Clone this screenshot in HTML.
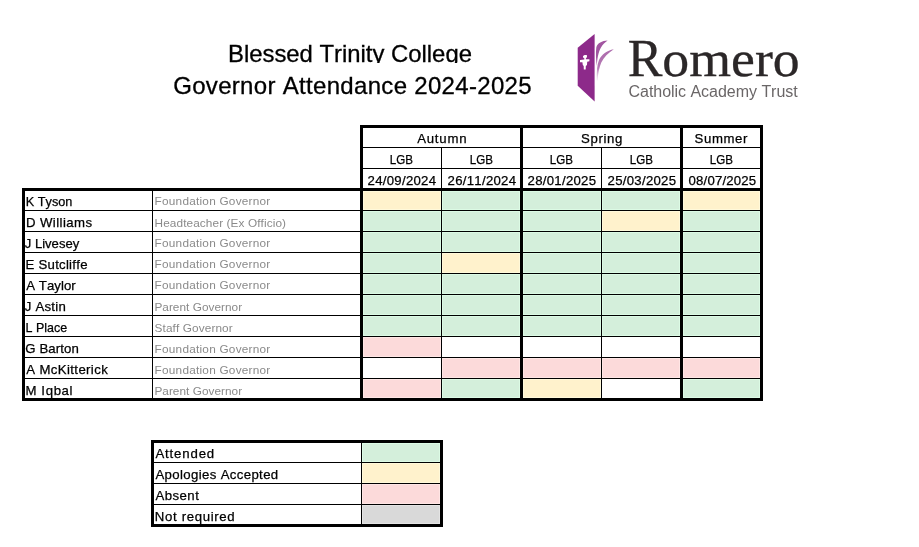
<!DOCTYPE html>
<html><head><meta charset="utf-8"><title>Governor Attendance 2024-2025</title>
<style>
html,body{margin:0;padding:0;background:#fff;}
body{width:919px;height:547px;position:relative;overflow:hidden;}
svg{position:absolute;left:0;top:0;}
text{font-family:"Liberation Sans",Arial,sans-serif;font-kerning:none;white-space:pre;}
.n{font-size:13.2px;fill:#000;stroke:#000;stroke-width:0.25px;}
.s{font-size:11.8px;fill:#8a8a8a;}
.ti{font-size:24px;fill:#000;stroke:#000;stroke-width:0.3px;}
.lr{font-family:"Liberation Serif",serif;font-size:52px;fill:#2b2728;stroke:#2b2728;stroke-width:0.3px;}
.ls{font-size:16px;fill:#6a6667;}
</style></head><body>
<svg width="919" height="547" viewBox="0 0 919 547">
<defs>
<clipPath id="c1"><rect x="0" y="0" width="919" height="63"/></clipPath>
<linearGradient id="fd" x1="0" y1="0" x2="0" y2="1"><stop offset="0" stop-color="#ad6bac"/><stop offset="0.6" stop-color="#b47ab3"/><stop offset="1" stop-color="#d9b8d8" stop-opacity="0.3"/></linearGradient>
</defs>
<g shape-rendering="crispEdges">
<rect x="363" y="191" width="78" height="19" fill="#fff9da"/>
<rect x="364" y="192" width="76" height="17" fill="#fff2cc"/>
<rect x="442" y="191" width="78" height="19" fill="#dcfbe5"/>
<rect x="443" y="192" width="76" height="17" fill="#d4efdb"/>
<rect x="523" y="191" width="78" height="19" fill="#dcfbe5"/>
<rect x="524" y="192" width="76" height="17" fill="#d4efdb"/>
<rect x="602" y="191" width="78" height="19" fill="#dcfbe5"/>
<rect x="603" y="192" width="76" height="17" fill="#d4efdb"/>
<rect x="683" y="191" width="77" height="19" fill="#fff9da"/>
<rect x="684" y="192" width="75" height="17" fill="#fff2cc"/>
<rect x="363" y="211" width="78" height="20" fill="#dcfbe5"/>
<rect x="364" y="212" width="76" height="18" fill="#d4efdb"/>
<rect x="442" y="211" width="78" height="20" fill="#dcfbe5"/>
<rect x="443" y="212" width="76" height="18" fill="#d4efdb"/>
<rect x="523" y="211" width="78" height="20" fill="#dcfbe5"/>
<rect x="524" y="212" width="76" height="18" fill="#d4efdb"/>
<rect x="602" y="211" width="78" height="20" fill="#fff9da"/>
<rect x="603" y="212" width="76" height="18" fill="#fff2cc"/>
<rect x="683" y="211" width="77" height="20" fill="#dcfbe5"/>
<rect x="684" y="212" width="75" height="18" fill="#d4efdb"/>
<rect x="363" y="232" width="78" height="20" fill="#dcfbe5"/>
<rect x="364" y="233" width="76" height="18" fill="#d4efdb"/>
<rect x="442" y="232" width="78" height="20" fill="#dcfbe5"/>
<rect x="443" y="233" width="76" height="18" fill="#d4efdb"/>
<rect x="523" y="232" width="78" height="20" fill="#dcfbe5"/>
<rect x="524" y="233" width="76" height="18" fill="#d4efdb"/>
<rect x="602" y="232" width="78" height="20" fill="#dcfbe5"/>
<rect x="603" y="233" width="76" height="18" fill="#d4efdb"/>
<rect x="683" y="232" width="77" height="20" fill="#dcfbe5"/>
<rect x="684" y="233" width="75" height="18" fill="#d4efdb"/>
<rect x="363" y="253" width="78" height="20" fill="#dcfbe5"/>
<rect x="364" y="254" width="76" height="18" fill="#d4efdb"/>
<rect x="442" y="253" width="78" height="20" fill="#fff9da"/>
<rect x="443" y="254" width="76" height="18" fill="#fff2cc"/>
<rect x="523" y="253" width="78" height="20" fill="#dcfbe5"/>
<rect x="524" y="254" width="76" height="18" fill="#d4efdb"/>
<rect x="602" y="253" width="78" height="20" fill="#dcfbe5"/>
<rect x="603" y="254" width="76" height="18" fill="#d4efdb"/>
<rect x="683" y="253" width="77" height="20" fill="#dcfbe5"/>
<rect x="684" y="254" width="75" height="18" fill="#d4efdb"/>
<rect x="363" y="274" width="78" height="20" fill="#dcfbe5"/>
<rect x="364" y="275" width="76" height="18" fill="#d4efdb"/>
<rect x="442" y="274" width="78" height="20" fill="#dcfbe5"/>
<rect x="443" y="275" width="76" height="18" fill="#d4efdb"/>
<rect x="523" y="274" width="78" height="20" fill="#dcfbe5"/>
<rect x="524" y="275" width="76" height="18" fill="#d4efdb"/>
<rect x="602" y="274" width="78" height="20" fill="#dcfbe5"/>
<rect x="603" y="275" width="76" height="18" fill="#d4efdb"/>
<rect x="683" y="274" width="77" height="20" fill="#dcfbe5"/>
<rect x="684" y="275" width="75" height="18" fill="#d4efdb"/>
<rect x="363" y="295" width="78" height="20" fill="#dcfbe5"/>
<rect x="364" y="296" width="76" height="18" fill="#d4efdb"/>
<rect x="442" y="295" width="78" height="20" fill="#dcfbe5"/>
<rect x="443" y="296" width="76" height="18" fill="#d4efdb"/>
<rect x="523" y="295" width="78" height="20" fill="#dcfbe5"/>
<rect x="524" y="296" width="76" height="18" fill="#d4efdb"/>
<rect x="602" y="295" width="78" height="20" fill="#dcfbe5"/>
<rect x="603" y="296" width="76" height="18" fill="#d4efdb"/>
<rect x="683" y="295" width="77" height="20" fill="#dcfbe5"/>
<rect x="684" y="296" width="75" height="18" fill="#d4efdb"/>
<rect x="363" y="316" width="78" height="20" fill="#dcfbe5"/>
<rect x="364" y="317" width="76" height="18" fill="#d4efdb"/>
<rect x="442" y="316" width="78" height="20" fill="#dcfbe5"/>
<rect x="443" y="317" width="76" height="18" fill="#d4efdb"/>
<rect x="523" y="316" width="78" height="20" fill="#dcfbe5"/>
<rect x="524" y="317" width="76" height="18" fill="#d4efdb"/>
<rect x="602" y="316" width="78" height="20" fill="#dcfbe5"/>
<rect x="603" y="317" width="76" height="18" fill="#d4efdb"/>
<rect x="683" y="316" width="77" height="20" fill="#dcfbe5"/>
<rect x="684" y="317" width="75" height="18" fill="#d4efdb"/>
<rect x="363" y="337" width="78" height="20" fill="#ffe6e5"/>
<rect x="364" y="338" width="76" height="18" fill="#fcdada"/>
<rect x="442" y="358" width="78" height="20" fill="#ffe6e5"/>
<rect x="443" y="359" width="76" height="18" fill="#fcdada"/>
<rect x="523" y="358" width="78" height="20" fill="#ffe6e5"/>
<rect x="524" y="359" width="76" height="18" fill="#fcdada"/>
<rect x="602" y="358" width="78" height="20" fill="#ffe6e5"/>
<rect x="603" y="359" width="76" height="18" fill="#fcdada"/>
<rect x="683" y="358" width="77" height="20" fill="#ffe6e5"/>
<rect x="684" y="359" width="75" height="18" fill="#fcdada"/>
<rect x="363" y="379" width="78" height="19" fill="#ffe6e5"/>
<rect x="364" y="380" width="76" height="17" fill="#fcdada"/>
<rect x="442" y="379" width="78" height="19" fill="#dcfbe5"/>
<rect x="443" y="380" width="76" height="17" fill="#d4efdb"/>
<rect x="523" y="379" width="78" height="19" fill="#fff9da"/>
<rect x="524" y="380" width="76" height="17" fill="#fff2cc"/>
<rect x="683" y="379" width="77" height="19" fill="#dcfbe5"/>
<rect x="684" y="380" width="75" height="17" fill="#d4efdb"/>
<rect x="362" y="443" width="78" height="19" fill="#dcfbe5"/>
<rect x="363" y="444" width="76" height="17" fill="#d4efdb"/>
<rect x="362" y="463" width="78" height="20" fill="#fff9da"/>
<rect x="363" y="464" width="76" height="18" fill="#fff2cc"/>
<rect x="362" y="484" width="78" height="20" fill="#ffe6e5"/>
<rect x="363" y="485" width="76" height="18" fill="#fcdada"/>
<rect x="362" y="505" width="78" height="19" fill="#e4e4e4"/>
<rect x="363" y="506" width="76" height="17" fill="#d9d9d9"/>
<rect x="360" y="125" width="403" height="3" fill="#000"/>
<rect x="361" y="147" width="401" height="1" fill="#000"/>
<rect x="361" y="168" width="401" height="1" fill="#000"/>
<rect x="441" y="147" width="1" height="43" fill="#000"/>
<rect x="601" y="147" width="1" height="43" fill="#000"/>
<rect x="360" y="125" width="3" height="66" fill="#000"/>
<rect x="520" y="125" width="3" height="66" fill="#000"/>
<rect x="680" y="125" width="3" height="66" fill="#000"/>
<rect x="760" y="125" width="3" height="66" fill="#000"/>
<rect x="22" y="188" width="741" height="3" fill="#000"/>
<rect x="23" y="210" width="739" height="1" fill="#000"/>
<rect x="23" y="231" width="739" height="1" fill="#000"/>
<rect x="23" y="252" width="739" height="1" fill="#000"/>
<rect x="23" y="273" width="739" height="1" fill="#000"/>
<rect x="23" y="294" width="739" height="1" fill="#000"/>
<rect x="23" y="315" width="739" height="1" fill="#000"/>
<rect x="23" y="336" width="739" height="1" fill="#000"/>
<rect x="23" y="357" width="739" height="1" fill="#000"/>
<rect x="23" y="378" width="739" height="1" fill="#000"/>
<rect x="22" y="398" width="741" height="3" fill="#000"/>
<rect x="22" y="188" width="3" height="213" fill="#000"/>
<rect x="152" y="189" width="1" height="211" fill="#000"/>
<rect x="360" y="188" width="3" height="213" fill="#000"/>
<rect x="520" y="188" width="3" height="213" fill="#000"/>
<rect x="680" y="188" width="3" height="213" fill="#000"/>
<rect x="760" y="188" width="3" height="213" fill="#000"/>
<rect x="441" y="189" width="1" height="211" fill="#000"/>
<rect x="601" y="189" width="1" height="211" fill="#000"/>
<rect x="151" y="440" width="292" height="3" fill="#000"/>
<rect x="151" y="524" width="292" height="3" fill="#000"/>
<rect x="152" y="462" width="290" height="1" fill="#000"/>
<rect x="152" y="483" width="290" height="1" fill="#000"/>
<rect x="152" y="504" width="290" height="1" fill="#000"/>
<rect x="151" y="440" width="3" height="87" fill="#000"/>
<rect x="440" y="440" width="3" height="87" fill="#000"/>
<rect x="361" y="441" width="1" height="85" fill="#000"/>
</g>
<text class="n" x="417.15" y="143" letter-spacing="0.780">Autumn</text>
<text class="n" x="581.10" y="143" letter-spacing="0.600">Spring</text>
<text class="n" x="694.60" y="143" letter-spacing="0.600">Summer</text>
<text class="n" x="389.72" y="164" textLength="23.22" lengthAdjust="spacingAndGlyphs">LGB</text>
<text class="n" x="469.72" y="164" textLength="23.22" lengthAdjust="spacingAndGlyphs">LGB</text>
<text class="n" x="549.72" y="164" textLength="23.22" lengthAdjust="spacingAndGlyphs">LGB</text>
<text class="n" x="629.72" y="164" textLength="23.22" lengthAdjust="spacingAndGlyphs">LGB</text>
<text class="n" x="709.72" y="164" textLength="23.22" lengthAdjust="spacingAndGlyphs">LGB</text>
<text class="n" x="367.55" y="185" letter-spacing="0.278">24/09/2024</text>
<text class="n" x="447.55" y="185" letter-spacing="0.278">26/11/2024</text>
<text class="n" x="527.55" y="185" letter-spacing="0.278">28/01/2025</text>
<text class="n" x="607.55" y="185" letter-spacing="0.278">25/03/2025</text>
<text class="n" x="688.55" y="185" letter-spacing="0.167">08/07/2025</text>
<text class="n" x="25.84" y="206" textLength="46.52" lengthAdjust="spacingAndGlyphs">K Tyson</text>
<text class="s" x="154.60" y="205" letter-spacing="0.233">Foundation Governor</text>
<text class="n" x="25.90" y="227" letter-spacing="0.433">D Williams</text>
<text class="s" x="154.60" y="227" letter-spacing="0.096">Headteacher (Ex Officio)</text>
<text class="n" x="24.71" y="248" textLength="54.58" lengthAdjust="spacingAndGlyphs">J Livesey</text>
<text class="s" x="154.60" y="247" letter-spacing="0.233">Foundation Governor</text>
<text class="n" x="25.50" y="269" letter-spacing="0.260">E Sutcliffe</text>
<text class="s" x="154.60" y="268" letter-spacing="0.233">Foundation Governor</text>
<text class="n" x="26.30" y="290" letter-spacing="0.043">A Taylor</text>
<text class="s" x="154.60" y="289" letter-spacing="0.233">Foundation Governor</text>
<text class="n" x="24.70" y="311" letter-spacing="0.250">J Astin</text>
<text class="s" x="154.40" y="311" letter-spacing="0.036">Parent Governor</text>
<text class="n" x="25.55" y="332" textLength="41.65" lengthAdjust="spacingAndGlyphs">L Place</text>
<text class="s" x="154.60" y="332" letter-spacing="0.108">Staff Governor</text>
<text class="n" x="25.30" y="353" letter-spacing="0.114">G Barton</text>
<text class="s" x="154.60" y="353" letter-spacing="0.233">Foundation Governor</text>
<text class="n" x="26.30" y="374" letter-spacing="0.375">A McKitterick</text>
<text class="s" x="154.60" y="374" letter-spacing="0.233">Foundation Governor</text>
<text class="n" x="25.40" y="395" letter-spacing="0.650">M Iqbal</text>
<text class="s" x="154.40" y="395" letter-spacing="0.036">Parent Governor</text>
<text class="n" x="155.40" y="458" letter-spacing="0.857">Attended</text>
<text class="n" x="155.40" y="479" letter-spacing="0.365">Apologies Accepted</text>
<text class="n" x="155.40" y="500" letter-spacing="0.480">Absent</text>
<text class="n" x="154.80" y="521" letter-spacing="0.664">Not required</text>
<g clip-path="url(#c1)"><text class="ti" x="228.01" y="62" textLength="243.92" lengthAdjust="spacingAndGlyphs">Blessed Trinity College</text></g>
<text class="ti" x="173.20" y="94" letter-spacing="0.314">Governor Attendance 2024-2025</text>
<path d="M577.7,47.8 L594.6,34 L594.6,101.5 L577.7,85.8 Z" fill="#8d2a8a"/>
<path d="M607.6,40.6 C602,41 597.5,43 596.3,47.5 C595.6,53 596,60 596.8,66 C597.2,59 598.3,52 601,47.5 C602.8,44.5 605,42.5 607.6,40.6 Z" fill="#a256a1"/>
<path d="M613.8,49.2 C607,50.5 601.5,54.5 599,60 C597,65 596.5,72 596.8,80.5 L597.6,80.5 C598,73 599.3,67 601.3,62.5 C604,57 608,53 613.8,49.2 Z" fill="url(#fd)"/>
<path d="M583,56.2 C583.5,55.2 586,54.8 587,55.4 C587.3,56.6 586.5,57.8 585.9,58.3 L585.9,59.2 L589.4,59.2 L589.4,61.3 L587.2,61.8 L587,65 L585.8,66 L585.7,69.4 L583.8,69.4 L583.7,66 L582.8,65 L582.4,62.2 L580,62.2 L580,59.9 L584.3,59.6 L584.3,58.3 C583.3,57.8 582.8,57 583,56.2 Z" fill="#fff"/>
<text class="lr" x="627.7" y="76">R<tspan x="662.3" font-size="50" textLength="137.4" lengthAdjust="spacingAndGlyphs">omero</tspan></text>
<text class="ls" x="628.5" y="97" letter-spacing="-0.03">Catholic Academy Trust</text>
</svg>
</body></html>
